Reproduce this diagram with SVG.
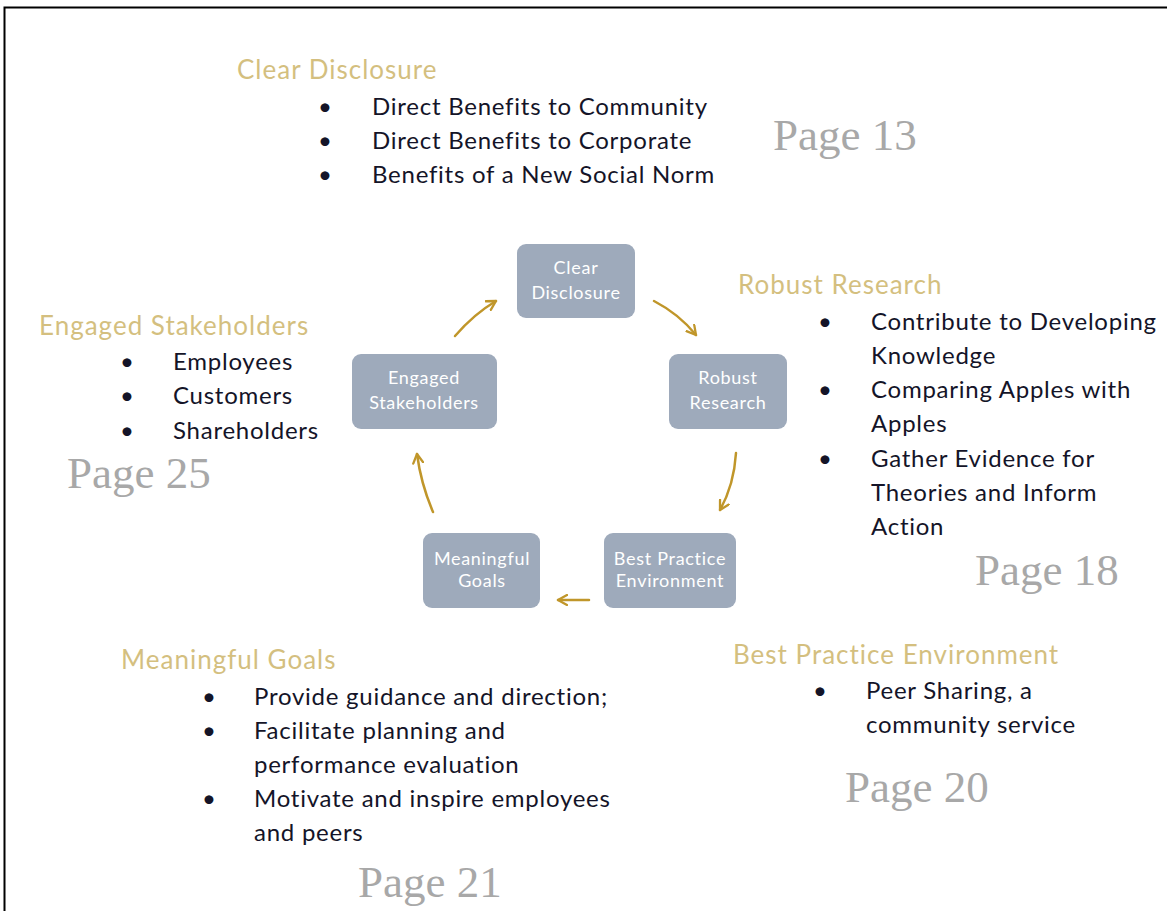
<svg xmlns="http://www.w3.org/2000/svg" width="1167" height="911" viewBox="0 0 1167 911">
<defs>
<style>
.h{font-family:Lato,"Open Sans","Liberation Sans",sans-serif;font-size:26px;letter-spacing:1px;fill:#d4bf7f}
.b{font-family:Lato,"Open Sans","Liberation Sans",sans-serif;font-size:24px;letter-spacing:0.75px;fill:#141428}
.p{font-family:"Liberation Serif","Times New Roman",serif;font-size:45px;fill:#a8a8a8}
.nb{fill:#9eaabb;stroke:none}
.nt{font-family:Lato,"Open Sans","Liberation Sans",sans-serif;font-size:18px;letter-spacing:0.7px;fill:#ffffff;text-anchor:middle}
.c{fill:none;stroke:#c0962a;stroke-width:2.5;stroke-linecap:round}
</style>
<marker id="ah" viewBox="0 0 12 12" refX="10" refY="6" markerWidth="12" markerHeight="12" markerUnits="userSpaceOnUse" orient="auto">
<polyline points="1,1 10,6 1,11" fill="none" stroke="#c0962a" stroke-width="2.3" stroke-linecap="round" stroke-linejoin="round"/>
</marker>
</defs>
<rect x="0" y="0" width="1167" height="911" fill="#ffffff"/>
<path d="M4.5,911 V7.5 H1167" fill="none" stroke="#000" stroke-width="2"/>

<g id="connectors">
<path class="c" d="M455,336 Q474,314 496,301" marker-end="url(#ah)"/>
<path class="c" d="M654,301 Q679,314 696,335" marker-end="url(#ah)"/>
<path class="c" d="M736,453 Q734,485 720,510" marker-end="url(#ah)"/>
<path class="c" d="M589,600 L558,600" marker-end="url(#ah)"/>
<path class="c" d="M433,512 Q421,484 417,454" marker-end="url(#ah)"/>
</g>

<g id="node-clear">
<rect class="nb" x="517" y="244" width="118" height="74" rx="9"/>
<text class="nt" x="576" y="274">Clear</text>
<text class="nt" x="576" y="299">Disclosure</text>
</g>
<g id="node-robust">
<rect class="nb" x="669" y="354" width="118" height="75" rx="9"/>
<text class="nt" x="728" y="384">Robust</text>
<text class="nt" x="728" y="409">Research</text>
</g>
<g id="node-best">
<rect class="nb" x="604" y="533" width="132" height="75" rx="9"/>
<text class="nt" x="670" y="565">Best Practice</text>
<text class="nt" x="670" y="587">Environment</text>
</g>
<g id="node-goals">
<rect class="nb" x="423" y="533" width="117" height="75" rx="9"/>
<text class="nt" x="482" y="565">Meaningful</text>
<text class="nt" x="482" y="587">Goals</text>
</g>
<g id="node-engaged">
<rect class="nb" x="352" y="354" width="145" height="75" rx="9"/>
<text class="nt" x="424" y="384">Engaged</text>
<text class="nt" x="424" y="409">Stakeholders</text>
</g>

<g id="text-clear">
<text class="h" x="237" y="79">Clear Disclosure</text>
<text class="b" x="318" y="115">•</text><text class="b" x="372" y="115">Direct Benefits to Community</text>
<text class="b" x="318" y="149">•</text><text class="b" x="372" y="149">Direct Benefits to Corporate</text>
<text class="b" x="318" y="183">•</text><text class="b" x="372" y="183">Benefits of a New Social Norm</text>
<text class="p" x="773" y="150">Page 13</text>
</g>

<g id="text-robust">
<text class="h" x="738" y="294">Robust Research</text>
<text class="b" x="818" y="330">•</text><text class="b" x="871" y="330">Contribute to Developing</text>
<text class="b" x="871" y="364">Knowledge</text>
<text class="b" x="818" y="398">•</text><text class="b" x="871" y="398">Comparing Apples with</text>
<text class="b" x="871" y="432">Apples</text>
<text class="b" x="818" y="467">•</text><text class="b" x="871" y="467">Gather Evidence for</text>
<text class="b" x="871" y="501">Theories and Inform</text>
<text class="b" x="871" y="535">Action</text>
<text class="p" x="975" y="585">Page 18</text>
</g>

<g id="text-engaged">
<text class="h" x="39" y="335">Engaged Stakeholders</text>
<text class="b" x="120" y="370">•</text><text class="b" x="173" y="370">Employees</text>
<text class="b" x="120" y="404">•</text><text class="b" x="173" y="404">Customers</text>
<text class="b" x="120" y="439">•</text><text class="b" x="173" y="439">Shareholders</text>
<text class="p" x="67" y="488">Page 25</text>
</g>

<g id="text-goals">
<text class="h" x="121" y="669">Meaningful Goals</text>
<text class="b" x="202" y="705">•</text><text class="b" x="254" y="705">Provide guidance and direction;</text>
<text class="b" x="202" y="739">•</text><text class="b" x="254" y="739">Facilitate planning and</text>
<text class="b" x="254" y="773">performance evaluation</text>
<text class="b" x="202" y="807">•</text><text class="b" x="254" y="807">Motivate and inspire employees</text>
<text class="b" x="254" y="841">and peers</text>
<text class="p" x="358" y="897">Page 21</text>
</g>

<g id="text-best">
<text class="h" x="733" y="664">Best Practice Environment</text>
<text class="b" x="813" y="699">•</text><text class="b" x="866" y="699">Peer Sharing, a</text>
<text class="b" x="866" y="733">community service</text>
<text class="p" x="845" y="802">Page 20</text>
</g>
</svg>
